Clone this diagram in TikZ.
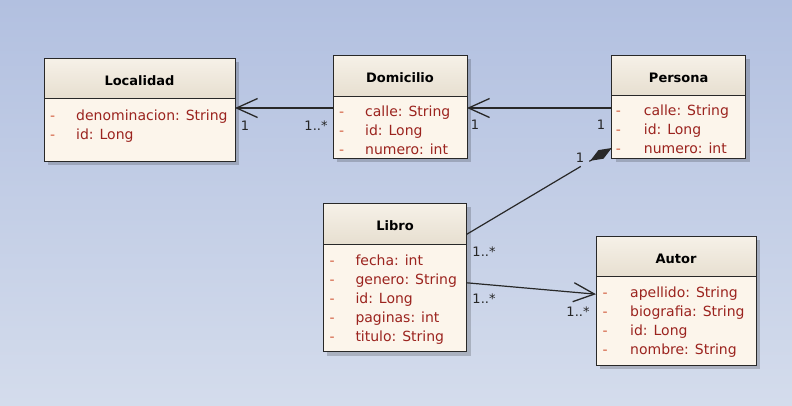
\documentclass[tikz,border=0pt]{standalone}
\usepackage{fontspec}
\setmainfont{DejaVu Sans}
\usetikzlibrary{positioning,arrows.meta,shadows,calc}
\definecolor{bgtop}{RGB}{178,192,224}
\definecolor{bgbot}{RGB}{212,220,236}
\definecolor{hdrtop}{RGB}{246,241,232}
\definecolor{hdrbot}{RGB}{231,223,208}
\definecolor{bodyfill}{RGB}{252,245,235}
\definecolor{attrc}{RGB}{155,35,30}
\definecolor{dashc}{RGB}{210,90,60}
\definecolor{edgec}{RGB}{40,40,40}

\begin{document}
\begin{tikzpicture}[x=1pt,y=-1pt,
	hdr/.style={draw=edgec,line width=1pt,top color=hdrtop,bottom color=hdrbot,anchor=north west,inner sep=0pt,outer sep=0pt,text height=14pt,text depth=0pt,font=\fontsize{13}{15}\selectfont\bfseries,drop shadow={shadow xshift=4pt,shadow yshift=-4pt,fill=black,opacity=0.18}},
	body/.style={draw=edgec,line width=1pt,fill=bodyfill,inner sep=0pt,outer sep=0pt,drop shadow={shadow xshift=4pt,shadow yshift=-4pt,fill=black,opacity=0.18}},
	attrs/.style={anchor=north west,inner sep=0pt,text=attrc,font=\fontsize{14}{19}\selectfont},
	mult/.style={inner sep=0pt,text=black!85,font=\fontsize{13}{15}\selectfont},
	assoc/.style={draw=edgec,line width=1.2pt,-{Straight Barb[length=21pt,width=19pt,line width=1.3pt]}},
	link/.style={draw=edgec,line width=1.2pt}]
		\useasboundingbox (0,0) rectangle (792,405);
		\shade[top color=bgtop,bottom color=bgbot] (0,0) rectangle (792,405);
		\node[hdr,minimum width=191pt,minimum height=40pt] (loc) at (44,58) {Localidad};
		\node[body,minimum width=191pt,minimum height=63pt,below=0pt of loc] (locB) {};
		\node[attrs] (locT) at ([xshift=6pt,yshift=-8.5pt]locB.north west) {\begin{tabular}{@{}p{26pt}@{}l@{}}\textcolor{dashc}{-} & denominacion: String\\\textcolor{dashc}{-} & id: Long\end{tabular}};
		\node[hdr,minimum width=134pt,minimum height=41pt] (dom) at (333,55) {Domicilio};
		\node[body,minimum width=134pt,minimum height=62pt,below=0pt of dom] (domB) {};
		\node[attrs] (domT) at ([xshift=6pt,yshift=-7.2pt]domB.north west) {\begin{tabular}{@{}p{26pt}@{}l@{}}\textcolor{dashc}{-} & calle: String\\\textcolor{dashc}{-} & id: Long\\\textcolor{dashc}{-} & numero: int\end{tabular}};
		\node[hdr,minimum width=134pt,minimum height=40pt] (per) at (611.7,55) {Persona};
		\node[body,minimum width=134pt,minimum height=63pt,below=0pt of per] (perB) {};
		\node[attrs] (perT) at ([xshift=4pt,yshift=-7.2pt]perB.north west) {\begin{tabular}{@{}p{28pt}@{}l@{}}\textcolor{dashc}{-} & calle: String\\\textcolor{dashc}{-} & id: Long\\\textcolor{dashc}{-} & numero: int\end{tabular}};
		\node[hdr,minimum width=143.4pt,minimum height=41pt] (lib) at (323.3,203.3) {Libro};
		\node[body,minimum width=143.4pt,minimum height=107.4pt,below=0pt of lib] (libB) {};
		\node[attrs] (libT) at ([xshift=6pt,yshift=-7.2pt]libB.north west) {\begin{tabular}{@{}p{26pt}@{}l@{}}\textcolor{dashc}{-} & fecha: int\\\textcolor{dashc}{-} & genero: String\\\textcolor{dashc}{-} & id: Long\\\textcolor{dashc}{-} & paginas: int\\\textcolor{dashc}{-} & titulo: String\end{tabular}};
		\node[hdr,minimum width=160pt,minimum height=40.7pt] (aut) at (596,236) {Autor};
		\node[body,minimum width=160pt,minimum height=88.3pt,below=0pt of aut] (autB) {};
		\node[attrs] (autT) at ([xshift=6.5pt,yshift=-7.5pt]autB.north west) {\begin{tabular}{@{}p{27.5pt}@{}l@{}}\textcolor{dashc}{-} & apellido: String\\\textcolor{dashc}{-} & biografia: String\\\textcolor{dashc}{-} & id: Long\\\textcolor{dashc}{-} & nombre: String\end{tabular}};
		\draw[assoc] ([yshift=-12pt]domB.north west) -- ([yshift=-10pt]locB.north east);
		\draw[assoc] ([yshift=-13pt]perB.north west) -- ([yshift=-12pt]domB.north east);
		\draw[assoc] ([yshift=-38.5pt]libB.north east) -- ([yshift=-17.5pt]autB.north west);
		\coordinate (libP) at ([yshift=-31pt]lib.north east);
		\coordinate (perP) at ([yshift=10pt]perB.south west);
		\draw[link] (libP) -- ($(perP)!36pt!(libP)$);
		\draw[link,-{Diamond[length=25pt,width=10pt]}] ($(perP)!26pt!(libP)$) -- (perP);
		\node[mult] (m1) at (245,126) {1};
		\node[mult] (m2) at (316,126) {1..*};
		\node[mult] (m3) at (475,125) {1};
		\node[mult] (m4) at (601,125) {1};
		\node[mult] (m5) at (580,158) {1};
		\node[mult] (m6) at (484,252) {1..*};
		\node[mult] (m7) at (484,299) {1..*};
		\node[mult] (m8) at (578,312) {1..*};
\end{tikzpicture}
\end{document}
